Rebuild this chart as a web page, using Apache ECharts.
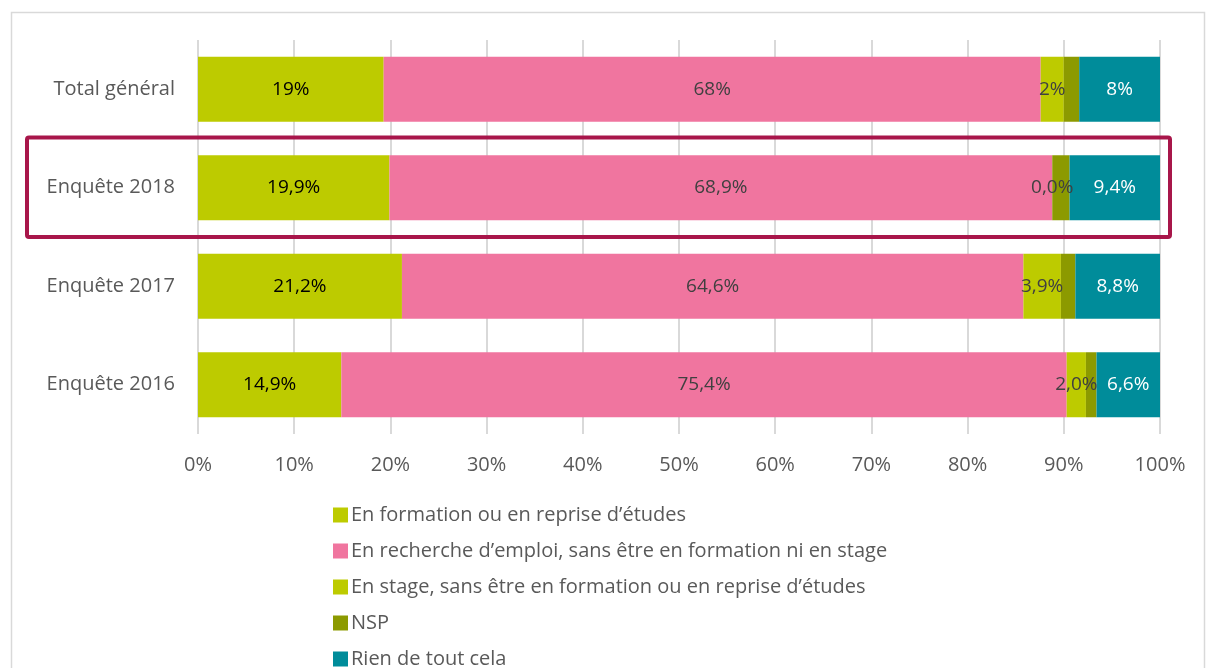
<!DOCTYPE html>
<html>
<head>
<meta charset="utf-8">
<script src="https://cdn.jsdelivr.net/npm/echarts@6/dist/echarts.min.js"></script>
<style>
html,body{margin:0;padding:0;background:#fff;}
#c{width:1206px;height:668px;}
</style>
</head>
<body>
<div id="c"></div>
<script>
const categories = ['Total général', 'Enquête 2018', 'Enquête 2017', 'Enquête 2016'];
const labelDecimals = [0, 1, 1, 1];
const seriesNames = [
  'En formation ou en reprise d\u2019études',
  'En recherche d\u2019emploi, sans être en formation ni en stage',
  'En stage, sans être en formation ou en reprise d\u2019études',
  'NSP',
  'Rien de tout cela'
];
const formation = [19.3, 19.9, 21.2, 14.9];
const recherche = [68.3, 68.9, 64.6, 75.4];
const stage = [2.4, 0.0, 3.9, 2.0];
const nsp = [1.6, 1.8, 1.5, 1.1];
const rien = [8.4, 9.4, 8.8, 6.6];
const xTicks = [0, 10, 20, 30, 40, 50, 60, 70, 80, 90, 100];
const highlighted = 'Enquête 2018';

const FONT = '"Open Sans", "Noto Sans", sans-serif';
const FS = 20;
const colors = ['#BDCB00', '#F0759F', '#BDCB00', '#8C9A00', '#008C9A'];
const labelColors = ['#000000', '#404040', '#404040', null, '#ffffff'];
const dataSets = [formation, recherche, stage, nsp, rien];

function fmt(v, idx) {
  return v.toFixed(labelDecimals[idx]).replace('.', ',') + '%';
}

const chart = echarts.init(document.getElementById('c'), null, {renderer: 'canvas'});

const series = dataSets.map((d, i) => ({
  name: seriesNames[i],
  type: 'bar',
  stack: 'total',
  barWidth: '66%',
  itemStyle: {color: colors[i]},
  label: {
    show: labelColors[i] !== null,
    position: 'inside',
    color: labelColors[i] || '#000',
    fontFamily: FONT,
    fontSize: 19,
    formatter: p => fmt(p.value, p.dataIndex)
  },
  emphasis: {disabled: true},
  data: d.slice()
}));

chart.setOption({
  animation: false,
  textStyle: {fontFamily: FONT},
  grid: {left: 198, right: 46, top: 40, bottom: 234, containLabel: false},
  xAxis: {
    type: 'value',
    min: xTicks[0],
    max: xTicks[xTicks.length - 1],
    interval: 10,
    axisLine: {show: false},
    axisTick: {show: false},
    splitLine: {show: true, lineStyle: {color: '#D9D9D9', width: 2}},
    axisLabel: {
      color: '#595959',
      fontSize: FS,
      fontFamily: FONT,
      margin: 21,
      formatter: v => v + '%'
    }
  },
  yAxis: {
    type: 'category',
    inverse: true,
    data: categories,
    axisLine: {show: false},
    axisTick: {show: false},
    axisLabel: {color: '#595959', fontSize: FS, fontFamily: FONT, margin: 23}
  },
  legend: {
    orient: 'vertical',
    left: 328,
    top: 500,
    height: 200,
    itemWidth: 15,
    itemHeight: 15,
    itemGap: 16,
    icon: 'rect',
    selectedMode: false,
    textStyle: {color: '#595959', fontSize: FS, fontFamily: FONT, padding: [0, 0, 0, -2]},
    data: seriesNames
  },
  series: series
});

function drawOverlay() {
  const idx = categories.indexOf(highlighted);
  const yc = chart.convertToPixel({yAxisIndex: 0}, idx);
  const y0 = chart.convertToPixel({yAxisIndex: 0}, 0);
  const y1 = chart.convertToPixel({yAxisIndex: 0}, 1);
  const band = Math.abs(y1 - y0);
  chart.setOption({
    graphic: [
      {
        type: 'rect',
        shape: {x: 11.5, y: 12.5, width: 1193, height: 700},
        style: {fill: 'none', stroke: '#D9D9D9', lineWidth: 1.5},
        silent: true,
        z: -1
      },
      {
        type: 'rect',
        shape: {x: 27, y: yc - band / 2 - 1, width: 1143, height: band + 1, r: 2},
        style: {fill: 'none', stroke: '#A8164A', lineWidth: 4},
        silent: true,
        z: 100
      }
    ]
  });
}
drawOverlay();
</script>
</body>
</html>
